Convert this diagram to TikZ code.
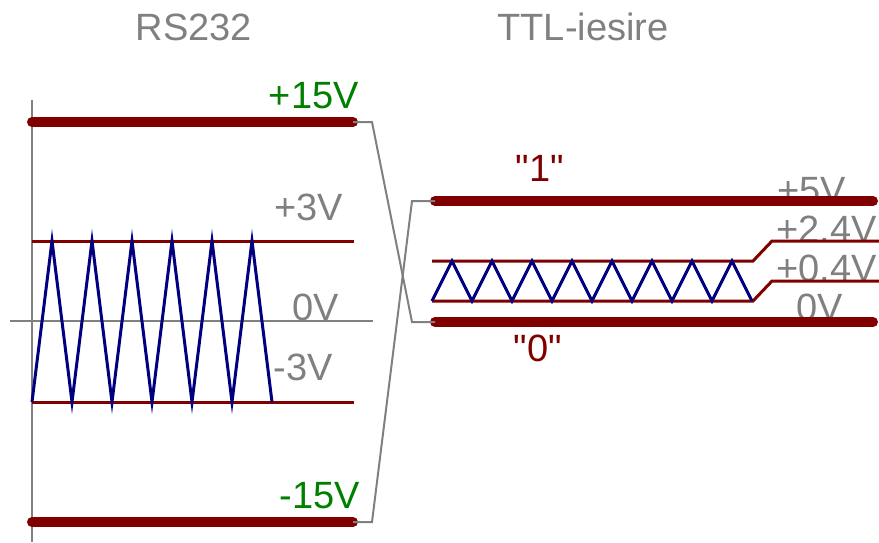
\documentclass[tikz,border=0pt]{standalone}
\usepackage{fontspec}
\setmainfont{Liberation Sans}
\definecolor{barred}{RGB}{128, 0, 0}
\definecolor{levelgreen}{RGB}{0, 128, 0}
\definecolor{axisgray}{RGB}{128, 128, 128}
\definecolor{signalblue}{RGB}{0, 0, 128}
\usetikzlibrary{positioning}
\newcommand{\straightdq}{\XeTeXglyph\XeTeXcharglyph"22\relax}
\tikzset{
    railbar/.style={barred, line width=10pt, line cap=round},
    thinlevel/.style={barred, line width=3pt},
    axisline/.style={axisgray, line width=2pt},
    link/.style={axisgray, line width=2pt},
    signal/.style={signalblue, line width=3pt},
    lbl/.style={font=\fontsize{38}{40}\selectfont, inner sep=0pt},
}
\begin{document}
\begin{tikzpicture}[x=1pt, y=-1pt]
    \useasboundingbox (0,0) rectangle (879,542);

    % Titles
    \node[lbl, axisgray, anchor=base] (rstitle) at (194,40) {RS232};
    \node[lbl, axisgray, anchor=base] (ttltitle) at (583,40) {TTL-iesire};

    % RS232 side
    \draw[axisline] (32,100) -- (32,542);
    \draw[axisline] (10,321) -- (373,321);
    \draw[thinlevel] (32,241) -- (354,241);
    \draw[thinlevel] (32,402) -- (354,402);
    \draw[signal] (32,402) \foreach \k in {0,...,5} { -- ({52+40*\k},241) -- ({72+40*\k},402) };

    \node[lbl, levelgreen, anchor=base east] (lplus15) at (359,108) {+15V};
    \node[lbl, axisgray, anchor=base east] (lplus3) at (343,220) {+3V};
    \node[lbl, axisgray, anchor=base east] (lzero) at (339,320) {0V};
    \node[lbl, axisgray, anchor=base east] (lminus3) at (333,380) {-3V};
    \node[lbl, levelgreen, anchor=base east] (lminus15) at (360,508) {-15V};

    \coordinate (hiA) at (32,122);
    \coordinate (hiB) at (353,122);
    \coordinate (loA) at (32,522);
    \coordinate (loB) at (353,522);
    \draw[railbar] (hiA) -- (hiB);
    \draw[railbar] (loA) -- (loB);

    % TTL side
    \node[lbl, axisgray, anchor=base east] (rplus5) at (846,203) {+5V};
    \node[lbl, axisgray, anchor=base east] (rplus24) at (877,242) {+2.4V};
    \node[lbl, axisgray, anchor=base east] (rplus04) at (877,281) {+0.4V};
    \node[lbl, axisgray, anchor=base east] (rzero) at (843,320) {0V};
    \node[lbl, barred, anchor=base] (one) at (540,181) {\straightdq1\straightdq};
    \node[lbl, barred, anchor=base] (zero) at (538,361) {\straightdq0\straightdq};

    \draw[thinlevel] (432,261) -- (753,261) -- (772,241) -- (879,241);
    \draw[thinlevel] (432,301) -- (753,301) -- (772,281) -- (879,281);
    \draw[signal] (432,301) \foreach \k in {0,...,7} { -- ({452+40*\k},261) -- ({472+40*\k},301) };

    \coordinate (oneA) at (435,201);
    \coordinate (oneB) at (873,201);
    \coordinate (zeroA) at (435,322);
    \coordinate (zeroB) at (873,322);
    \draw[railbar] (oneA) -- (oneB);
    \draw[railbar] (zeroA) -- (zeroB);

    % Mapping
    \draw[link] (hiB) -- (372,122) -- (412,322) -- (zeroA);
    \draw[link] (loB) -- (372,522) -- (412,201) -- (oneA);
\end{tikzpicture}
\end{document}
